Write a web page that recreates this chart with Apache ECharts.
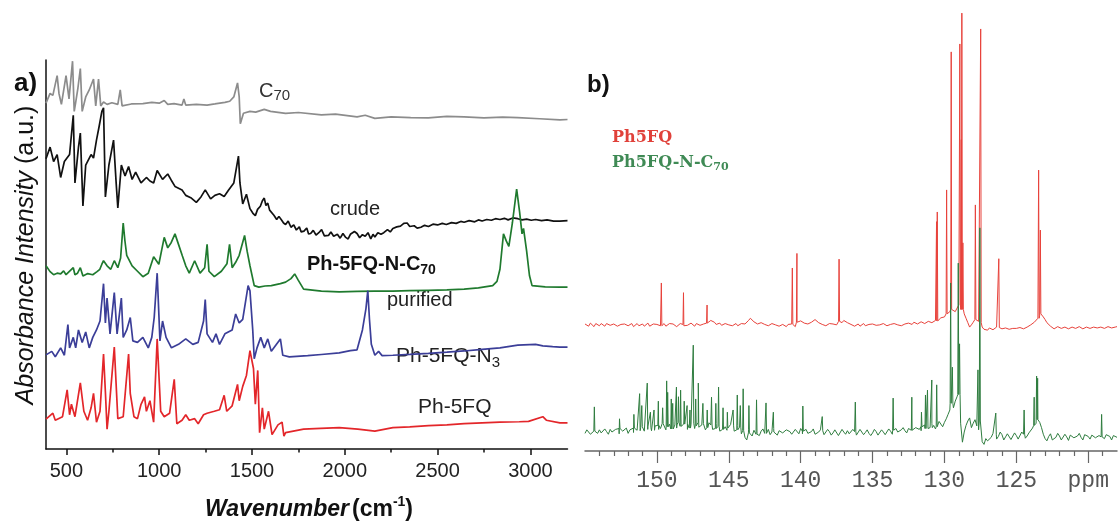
<!DOCTYPE html>
<html>
<head>
<meta charset="utf-8">
<script src="https://cdn.jsdelivr.net/npm/echarts@6/dist/echarts.min.js"></script>
<style>
  html, body { margin: 0; padding: 0; background: #fff; }
  #chart { width: 1119px; height: 523px; }
</style>
</head>
<body>
<div id="chart"></div>
<script>
// ---------- a) FT-IR spectra: [wavenumber (cm-1), absorbance above the trace's own baseline] ----------
const irC70 = [[390,4.3],[398,4.5],[412,6.8],[427,6.3],[450,11.4],[460,6.8],[473,4.0],[498,11.4],[514,5.4],[533,15.1],[542,2.2],[550,4.5],[562,8.2],[575,13.2],[585,2.2],[604,5.9],[623,7.7],[646,10.5],[658,3.6],[673,10.5],[685,3.6],[700,4.6],[719,4.0],[745,4.4],[777,4.0],[790,7.7],[800,3.6],[850,4.1],[912,4.2],[960,4.5],[1000,4.3],[1027,5.0],[1046,4.0],[1080,4.2],[1123,3.8],[1133,5.4],[1143,3.8],[1200,4.0],[1258,3.8],[1300,4.1],[1354,4.5],[1380,4.8],[1402,5.9],[1422,9.5],[1431,5.9],[1437,-1.0],[1454,1.7],[1489,2.2],[1520,2.0],[1566,2.7],[1600,2.2],[1681,1.7],[1750,1.9],[1874,1.3],[1950,1.5],[2066,0.8],[2110,1.2],[2162,0.4],[2250,0.8],[2355,0.6],[2450,0.5],[2550,0.9],[2643,0.8],[2750,0.5],[2850,0.7],[2932,0.6],[3050,0.3],[3159,0],[3200,0.1]];
const irCrude = [[390,16.0],[398,16.2],[412,19.0],[431,15.3],[450,17.1],[469,11.2],[489,15.3],[517,17.1],[537,27.2],[546,9.8],[565,19.0],[575,22.6],[589,3.9],[604,14.4],[633,17.1],[646,16.2],[662,20.8],[677,24.5],[691,28.2],[700,29.1],[710,6.2],[729,14.4],[754,20.8],[768,9.8],[777,3.4],[796,14.4],[816,11.6],[835,14.0],[854,10.7],[873,12.6],[902,9.8],[931,11.2],[950,10.3],[970,9.8],[989,13.0],[1018,10.7],[1046,12.1],[1065,10.5],[1085,8.9],[1123,8.0],[1143,6.6],[1170,6.0],[1200,4.8],[1225,6.2],[1248,8.0],[1277,5.7],[1300,6.6],[1325,7.0],[1350,6.3],[1374,8.0],[1402,9.8],[1427,16.7],[1435,9.8],[1450,4.4],[1470,6.9],[1489,3.2],[1505,2.0],[1518,1.4],[1530,3.0],[1545,3.8],[1556,5.2],[1566,5.9],[1575,4.0],[1585,4.6],[1595,2.8],[1604,3.2],[1618,1.5],[1633,0.4],[1645,1.2],[1660,0.2],[1670,-0.5],[1681,-0.9],[1695,0.0],[1710,-1.6],[1725,-1.0],[1739,-2.3],[1755,-1.5],[1765,-2.8],[1780,-2.6],[1795,-1.8],[1805,-3.3],[1816,-3.2],[1830,-2.4],[1845,-3.6],[1860,-3.0],[1875,-2.2],[1890,-3.8],[1912,-3.7],[1925,-2.8],[1940,-3.9],[1960,-3.4],[1975,-4.4],[1990,-3.2],[2005,-4.2],[2018,-4.6],[2030,-3.4],[2040,-3.6],[2052,-2.7],[2066,-3.2],[2080,-4.3],[2095,-3.5],[2110,-3.9],[2125,-3.0],[2140,-4.6],[2152,-3.4],[2162,-4.1],[2178,-3.0],[2195,-3.4],[2210,-3.0],[2230,-2.2],[2245,-2.8],[2259,-1.9],[2280,-1.5],[2300,-1.3],[2318,-0.6],[2336,-0.5],[2350,-1.4],[2374,-1.2],[2390,-1.8],[2410,-1.6],[2430,-1.1],[2451,-1.4],[2475,-0.8],[2500,-1.0],[2525,-0.6],[2547,-0.9],[2575,-0.4],[2600,-0.6],[2625,-0.1],[2643,-0.3],[2670,0.1],[2700,-0.2],[2720,0.3],[2740,0],[2765,0.4],[2790,0.2],[2812,0.6],[2836,0.4],[2860,0.7],[2880,0.3],[2905,0.8],[2932,0.6],[2955,0.3],[2980,0.5],[3005,0.2],[3028,0.4],[3060,0.1],[3090,0.3],[3125,0.0],[3159,0],[3200,0.1]];
const irAdduct = [[390,5.5],[398,5.7],[412,4.0],[431,3.2],[450,3.6],[469,3.4],[485,4.2],[498,3.2],[537,5.0],[546,3.2],[560,3.6],[575,5.0],[589,2.9],[615,3.5],[642,3.2],[665,4.0],[680,4.6],[691,5.9],[700,6.8],[719,5.5],[739,4.6],[758,6.8],[777,5.0],[792,7.5],[806,16.5],[815,12.0],[825,8.2],[854,5.5],[883,4.1],[912,2.7],[941,3.6],[970,7.8],[998,5.9],[1027,12.8],[1046,10.1],[1065,11.5],[1085,13.7],[1104,11.0],[1125,8.0],[1143,5.5],[1162,3.6],[1191,6.8],[1220,3.6],[1245,5.0],[1258,11.0],[1268,4.1],[1297,2.7],[1335,4.1],[1365,6.0],[1379,11.0],[1393,5.0],[1412,6.4],[1431,8.2],[1460,13.3],[1474,9.2],[1489,5.5],[1512,0.4],[1537,0],[1570,0.3],[1604,0.4],[1653,0.9],[1681,1.3],[1710,2.2],[1730,3.4],[1749,1.8],[1778,-0.5],[1874,-1.0],[1970,-1.2],[2066,-1.1],[2160,-1.0],[2259,-1.0],[2350,-0.9],[2451,-0.8],[2550,-0.7],[2643,-0.5],[2720,-0.2],[2797,0.4],[2820,1.5],[2836,4.6],[2855,13.7],[2870,11.9],[2884,10.5],[2903,16.5],[2926,25.2],[2942,19.3],[2955,13.7],[2963,15.1],[2980,9.2],[2995,3.0],[3009,0.4],[3080,0.1],[3159,0],[3200,0]];
const irAzide = [[390,-2.0],[398,-2.1],[421,-1.1],[440,-2.5],[469,-0.2],[489,-2.1],[508,5.8],[517,-0.2],[537,2.5],[550,-0.2],[565,4.4],[585,1.2],[604,3.9],[623,-0.2],[642,2.5],[662,4.4],[681,6.7],[700,16.3],[710,6.2],[719,12.6],[735,3.4],[758,14.0],[773,3.4],[796,12.6],[806,2.5],[825,4.4],[844,7.6],[858,1.6],[883,1.2],[912,2.5],[941,-0.2],[960,2.5],[973,7.6],[989,19.0],[1004,1.6],[1018,6.7],[1037,2.5],[1066,-0.2],[1104,0.7],[1143,2.1],[1181,0.7],[1210,1.2],[1239,6.7],[1248,12.2],[1258,3.4],[1287,1.2],[1306,3.4],[1325,0.7],[1354,3.4],[1393,4.4],[1412,8.5],[1431,6.2],[1450,7.1],[1479,15.8],[1489,14.5],[1504,4.4],[1512,-3.0],[1527,-0.2],[1547,2.5],[1566,-0.2],[1585,2.1],[1604,-1.1],[1653,2.1],[1666,-2.1],[1701,-2.5],[1800,-2.2],[1874,-1.9],[1970,-1.5],[2030,-0.9],[2066,-0.7],[2095,4.4],[2114,9.9],[2124,14.5],[2133,7.1],[2143,0.7],[2162,-2.1],[2182,-1.1],[2201,-2.2],[2259,-2.1],[2350,-1.9],[2451,-1.6],[2550,-1.3],[2643,-1.0],[2740,-0.6],[2836,-0.2],[2932,0.5],[3028,0.7],[3067,0.3],[3120,0.1],[3159,0],[3200,0]];
const irPh5FQ = [[390,1.0],[398,1.1],[427,2.5],[440,0.7],[479,1.6],[504,8.5],[517,2.1],[527,4.8],[546,1.6],[575,10.3],[594,3.0],[614,0.7],[633,3.9],[646,7.6],[662,0.2],[681,3.0],[700,17.7],[710,8.0],[719,-1.6],[729,3.0],[758,19.5],[777,1.1],[806,1.6],[835,17.7],[844,7.6],[864,1.6],[883,1.1],[902,4.8],[921,6.7],[931,3.0],[950,5.7],[970,0.2],[989,21.6],[1008,3.0],[1027,1.6],[1056,2.5],[1081,11.2],[1095,-0.2],[1123,0.7],[1143,2.1],[1162,0.7],[1191,1.1],[1210,-0.2],[1239,2.1],[1258,2.5],[1297,3.0],[1325,3.4],[1350,7.1],[1364,3.0],[1393,4.4],[1422,9.9],[1431,5.7],[1450,9.4],[1470,12.2],[1489,18.6],[1508,14.0],[1518,4.8],[1531,13.5],[1541,-2.5],[1556,3.9],[1566,-1.6],[1589,3.0],[1608,-3.0],[1640,-0.5],[1662,0.2],[1672,-3.4],[1681,-2.5],[1778,-1.6],[1870,-1.4],[1970,-1.2],[2070,-1.6],[2162,-2.1],[2259,-1.2],[2350,-1.0],[2451,-0.7],[2550,-0.5],[2643,-0.2],[2740,0],[2836,0.2],[2940,0.3],[2990,0.4],[3067,1.6],[3086,0.7],[3159,0],[3200,0]];

// vertical stacking of the IR traces (a.u.)
const IR_OFFSET_C70 = 84.6, IR_OFFSET_CRUDE = 58.6, IR_OFFSET_ADDUCT = 41.6, IR_OFFSET_AZIDE = 26.2, IR_OFFSET_PH5FQ = 6.7;
const IR_MAJOR_TICKS = [500, 1000, 1500, 2000, 2500, 3000];
const IR_MINOR_TICKS = [750, 1250, 1750, 2250, 2750];

// ---------- b) 13C NMR ----------
// baseline sampled every 0.25 ppm from 155 ppm, the "mid" samples sit halfway between (from 154.875 ppm)
const NMR_PPM_START = 155, NMR_PPM_STEP = 0.25;
const nmrPh5FQBase = [
  0.2,-0.3,0.1,0.3,-0.2,0.0,0.3,-0.1,0.2,-0.3,0.1,0.2,-0.2,0.3,0.0,-0.2,0.2,0.1,-0.3,0.2,
  0.1,-0.2,0.3,0.0,-0.1,0.2,-0.3,0.1,0.2,-0.2,0.0,0.3,-0.1,0.2,0.4,1.0,0.6,0.2,-0.1,0.3,
  0.0,-0.2,0.3,0.1,-0.1,0.6,1.5,0.7,0.2,0.5,0.1,-0.2,0.3,0.0,-0.3,0.1,-0.4,-0.2,0.1,0.6,
  0.9,0.4,0.2,0.6,1.2,0.5,0.1,-0.2,0.3,0.2,0.0,0.8,1.0,0.5,0.1,-0.3,0.2,0.0,-0.2,0.1,
  0.2,-0.1,0.0,0.3,-0.2,0.1,0.3,0.0,-0.2,0.2,0.4,0.1,0.5,0.3,0.6,0.4,0.8,0.5,0.9,1.6,
  1.8,2.5,3.5,3.0,4.5,3.5,1.5,-0.5,0.6,1.2,0.5,-1.0,-1.2,-0.8,-0.9,-0.6,-0.9,-0.7,-1.0,-0.8,
  -0.8,-0.6,-0.9,-0.5,0.0,0.6,1.5,2.5,1.2,0.2,-0.6,-0.8,-0.5,-0.9,-0.6,-0.8,-0.4,-0.7,-0.5,-0.8,
  -0.5,-0.8,-0.4,-0.6,-0.3,-0.7,-0.5,-0.6,-0.4
];
const nmrPh5FQMid = [
  -0.2,0.4,-0.4,0.1,0.3,-0.3,0.2,-0.4,0.4,-0.1,-0.3,0.4,0.0,-0.4,0.3,0.1,-0.3,0.4,0.0,-0.2,
  0.4,-0.1,-0.3,0.3,0.2,-0.4,0.3,-0.2,-0.1,0.4,-0.3,0.1,0.3,-0.2,0.7,0.8,0.1,0.4,-0.3,0.0,
  0.4,-0.1,-0.2,0.3,0.2,1.0,1.1,0.3,-0.1,0.3,0.4,-0.4,0.1,0.3,-0.1,-0.3,0.1,0.2,-0.4,0.3,
  0.5,0.6,-0.1,0.9,0.8,0.2,0.4,-0.4,0.0,0.5,-0.3,0.5,0.7,0.2,-0.2,0.1,-0.3,0.3,0.1,-0.3,
  0.4,-0.3,0.3,0.0,0.2,-0.2,0.0,0.4,-0.1,0.0,0.3,0.6,0.2,0.7,0.3,0.8,0.5,1.0,1.3,1.5,
  2.2,3.0,3.2,3.8,4.0,2.5,0.5,0.0,1.0,0.8,-0.5,-0.9,-0.7,-1.1,-0.5,-0.8,-0.6,-1.1,-0.6,-1.0,
  -0.5,-0.9,-0.6,-0.3,0.3,1.0,2.2,1.8,0.5,-0.3,-0.9,-0.4,-0.8,-0.5,-0.9,-0.5,-0.8,-0.4,-0.9,-0.5,
  -0.8,-0.5,-0.7,-0.5,-0.8,-0.4,-0.7,-0.5
];
const nmrPh5FQLines = [[149.69,9.5],[148.15,7.3],[146.51,4.5],[140.58,12.9],[140.26,16.2],[137.33,14.9],[130.55,23.4],[130.50,25.6],[129.85,30.6],[129.53,61.9],[128.93,63.7],[128.83,42.0],[128.79,70.7],[128.72,18.6],[127.85,27.2],[127.48,67.1],[126.22,15.0],[123.45,35.1],[123.33,21.5]];
const nmrAdductBase = [
  -0.3,0.4,-0.6,0.2,0.5,-0.4,0.1,0.6,-0.2,0.3,0.8,0.2,-0.3,0.5,0.9,0.3,1.2,0.6,1.0,0.4,
  1.5,0.8,1.9,1.2,0.7,1.6,2.2,1.3,1.8,0.9,2.0,1.4,1.1,1.9,1.0,1.6,0.8,1.3,0.6,1.2,
  0.9,1.4,0.5,1.1,0.3,-1.8,-0.2,0.4,-0.5,0.2,-0.3,0.6,0.0,-0.4,0.3,-0.2,0.5,0.1,-0.3,0.2,
  0.8,0.2,-0.3,0.1,-0.5,0.0,0.3,-0.4,0.1,-0.2,0.2,-0.5,0.0,0.3,-0.3,0.1,-0.4,0.2,-0.1,-0.3,
  -0.2,0.1,-0.4,0.0,-0.3,0.2,0.4,0.0,0.5,0.3,0.8,0.4,1.0,0.6,1.2,0.8,1.0,1.5,1.2,1.8,
  2.2,4.0,6.5,7.0,8.5,-2.3,1.5,3.2,2.0,1.4,2.5,-2.8,-2.0,-1.2,-0.5,-1.0,-0.6,-1.1,-0.7,-1.3,
  -0.8,-1.2,-0.5,-0.9,0.2,1.5,2.8,1.0,-1.5,-1.0,-1.8,-1.2,-0.9,-1.5,-1.1,-0.7,-1.3,-0.9,-1.2,-0.6,
  -1.0,-0.7,-1.3,-0.8,-1.1,-0.6,-1.0,-0.8,-1.2
];
const nmrAdductMid = [
  0.5,-0.5,0.6,-0.3,-0.2,0.7,-0.5,0.0,0.6,-0.4,0.2,0.9,0.5,-0.1,0.4,1.0,0.2,1.3,0.3,1.4,
  0.6,2.0,0.5,1.8,2.3,0.9,1.2,2.5,0.6,1.7,0.8,2.2,1.6,0.5,2.1,0.6,1.9,0.2,1.6,0.4,
  1.7,0.2,1.5,-0.4,-1.2,0.5,-0.9,0.6,-0.8,0.7,0.2,-0.6,0.8,-0.7,0.5,-0.6,0.9,-0.5,0.6,-0.4,
  -0.4,0.6,-0.7,0.7,-0.8,0.5,-0.6,0.6,-0.7,0.5,-0.8,0.6,-0.5,-0.4,0.6,-0.7,0.6,-0.6,0.5,-0.8,
  0.6,-0.7,0.5,-0.6,0.7,-0.5,0.8,-0.3,1.0,-0.2,1.1,0.0,1.4,0.3,1.6,0.4,1.9,0.7,2.4,1.2,
  3.0,5.0,5.5,8.0,2.0,0.0,2.5,1.0,2.8,0.5,-2.2,-1.5,-2.4,-0.3,-1.6,0.0,-1.8,-0.4,-1.7,-0.2,
  -1.6,0.0,-1.4,-0.2,0.9,2.0,2.2,-0.5,-2.0,-0.4,-2.1,-0.3,-1.8,-0.5,-1.9,-0.4,-1.7,-0.3,-1.8,-0.2,
  -1.6,-0.3,-1.7,-0.4,-1.5,-0.2,-1.8,-0.5
];
const nmrAdductLines = [[154.35,5.7],[152.6,3.0],[151.6,4.0],[151.2,8.7],[151.05,6.0],[150.67,11.1],[150.45,4.5],[150.2,5.0],[149.9,7.0],[149.6,5.5],[149.32,11.6],[149.25,9.0],[149.0,7.5],[148.9,6.5],[148.64,10.2],[148.5,8.0],[148.35,9.5],[148.1,7.0],[147.9,6.0],[147.7,5.0],[147.47,19.7],[147.3,7.5],[147.12,11.1],[146.8,6.5],[146.5,5.0],[146.2,7.9],[145.9,6.5],[145.71,10.2],[145.4,5.5],[145.1,4.5],[144.7,5.0],[144.41,8.4],[144.2,6.0],[144.0,9.8],[143.6,6.0],[143.07,7.3],[142.41,6.6],[141.9,4.5],[139.85,5.9],[138.5,3.5],[136.2,6.8],[133.57,7.7],[132.27,7.9],[131.6,4.5],[131.32,8.4],[131.18,9.5],[130.88,11.8],[130.54,10.7],[129.57,33.8],[129.45,14.7],[129.04,38.3],[128.95,20.0],[127.67,14.1],[127.54,46.3],[126.43,4.3],[124.46,5.0],[123.76,7.9],[123.59,12.7],[123.52,12.2],[119.07,4.0]];
const NMR_OFFSET_PH5FQ = 28.6, NMR_OFFSET_ADDUCT = 4.3;
const NMR_MAJOR_TICKS = [120, 125, 130, 135, 140, 145, 150];
const NMR_MINOR_TICKS = [119,121,122,123,124,126,127,128,129,131,132,133,134,136,137,138,139,141,142,143,144,146,147,148,149,151,152,153,154];
const NMR_UNIT_LABEL = 'ppm';

// ---------- series builders ----------
function stacked(points, offset) {
  return points.map(([x, y]) => [x, y + offset]);
}
// half-width of a resonance line, ppm
const LINE_HALF_WIDTH = 0.035;
function nmrTrace(base, mid, lines, offset) {
  const pts = base.map((v, i) => [NMR_PPM_START - i * NMR_PPM_STEP, v])
    .concat(mid.map((v, i) => [NMR_PPM_START - NMR_PPM_STEP / 2 - i * NMR_PPM_STEP, v]));
  lines.forEach(([p, h]) => {
    const i = Math.min(base.length - 1, Math.max(0, Math.round((NMR_PPM_START - p) / NMR_PPM_STEP)));
    pts.push([p + LINE_HALF_WIDTH, base[i]], [p, h], [p - LINE_HALF_WIDTH, base[i]]);
  });
  pts.sort((a, b) => b[0] - a[0]);
  return stacked(pts, offset);
}

// ---------- text helpers (sub/superscripts) ----------
const measureCtx = document.createElement('canvas').getContext('2d');
function fontOf(p) {
  return `${p.style || 'normal'} ${p.weight || 'normal'} ${p.size}px ${p.family || '"Liberation Sans", Arial, sans-serif'}`;
}
function widthOf(p) { measureCtx.font = fontOf(p); return measureCtx.measureText(p.text).width; }
// lays a run of styled pieces out on one line, starting at x0 (or centred on x0)
function textRun(parts, x0, y, color, centred) {
  const total = parts.reduce((s, p) => s + widthOf(p) + (p.gap || 0), 0);
  let x = centred ? x0 - total / 2 : x0;
  return parts.map(p => {
    const el = {
      type: 'text', x: x + (p.gap || 0), y: y + (p.dy || 0), silent: true,
      style: { text: p.text, font: fontOf(p), fill: p.color || color,
               textAlign: 'left', textVerticalAlign: 'middle', align: 'left', verticalAlign: 'middle' }
    };
    x += widthOf(p) + (p.gap || 0);
    return el;
  });
}

const SANS = '"Liberation Sans", Arial, sans-serif';
const SERIF = '"DejaVu Serif", serif';
const labelColor = '#222';

const graphics = [
  // panel tags
  ...textRun([{ text: 'a)', size: 26, weight: 'bold' }], 14, 84, '#111'),
  ...textRun([{ text: 'b)', size: 24, weight: 'bold' }], 587, 85, '#111'),
  // trace labels, panel a
  ...textRun([{ text: 'C', size: 20 }, { text: '70', size: 15, dy: 5 }], 259, 91, '#333'),
  ...textRun([{ text: 'crude', size: 20 }], 330, 209, labelColor),
  ...textRun([{ text: 'Ph-5FQ-N-C', size: 20, weight: 'bold' }, { text: '70', size: 14, weight: 'bold', dy: 6 }], 307, 264, '#111'),
  ...textRun([{ text: 'purified', size: 20 }], 387, 300, labelColor),
  ...textRun([{ text: 'Ph-5FQ-N', size: 21 }, { text: '3', size: 15, dy: 7 }], 396, 356, labelColor),
  ...textRun([{ text: 'Ph-5FQ', size: 21 }], 418, 407, labelColor),
  // axis title, panel a
  ...textRun([
    { text: 'Wavenumber', size: 23, weight: 'bold', style: 'italic' },
    { text: '(cm', size: 23, weight: 'bold', gap: 3 },
    { text: '-1', size: 14, weight: 'bold', dy: -8 },
    { text: ')', size: 23, weight: 'bold' }
  ], 205, 510, '#111'),
  {
    type: 'group', x: 26, y: 255, rotation: Math.PI / 2, silent: true,
    children: textRun([
      { text: 'Absorbance Intensity', size: 25, style: 'italic' },
      { text: ' (a.u.)', size: 25 }
    ], 0, 0, '#111', true)
  },
  // legend, panel b
  ...textRun([{ text: 'Ph5FQ', size: 16, weight: 'bold', family: SERIF }], 612, 138, '#e0413a'),
  ...textRun([{ text: 'Ph5FQ-N-C', size: 16, weight: 'bold', family: SERIF },
              { text: '70', size: 11, weight: 'bold', family: SERIF, dy: 4 }], 612, 163, '#3f8a55')
];

const chart = echarts.init(document.getElementById('chart'), null, { renderer: 'canvas' });
const irLine = (name, data, color) => ({
  name, type: 'line', xAxisIndex: 0, yAxisIndex: 0, data, symbol: 'none', silent: true,
  lineStyle: { color, width: 1.7 }, z: 3
});
const nmrLine = (name, data, color) => ({
  name, type: 'line', xAxisIndex: 2, yAxisIndex: 1, data, symbol: 'none', silent: true,
  lineStyle: { color, width: 1 }, z: 3
});

chart.setOption({
  animation: false,
  backgroundColor: '#fff',
  grid: [
    { left: 46, right: 551.5, top: 60, bottom: 74 },
    { left: 585, right: 2, top: 10, bottom: 72 }
  ],
  xAxis: [
    { gridIndex: 0, type: 'value', position: 'bottom', min: 390, max: 3200,
      axisLine: { lineStyle: { color: '#111', width: 1.5 } },
      axisTick: { customValues: IR_MAJOR_TICKS, length: 6, lineStyle: { color: '#111', width: 1.5 } },
      axisLabel: { customValues: IR_MAJOR_TICKS, fontSize: 20, fontFamily: SANS, color: '#222', margin: 12,
                   formatter: v => String(v) },
      splitLine: { show: false } },
    { gridIndex: 0, type: 'value', position: 'bottom', min: 390, max: 3200,
      axisLine: { show: false },
      axisTick: { customValues: IR_MINOR_TICKS, length: 3.5, lineStyle: { color: '#111', width: 1.5 } },
      axisLabel: { show: false }, splitLine: { show: false } },
    { gridIndex: 1, type: 'value', position: 'bottom', min: 118, max: 155, inverse: true,
      axisLine: { lineStyle: { color: '#666', width: 1.5 } },
      axisTick: { customValues: NMR_MAJOR_TICKS, length: 12, lineStyle: { color: '#666', width: 1.2 } },
      axisLabel: { customValues: NMR_MAJOR_TICKS, fontSize: 23, fontFamily: '"Liberation Mono", monospace',
                   color: '#555', margin: 18,
                   formatter: v => (v === 120 ? NMR_UNIT_LABEL : String(v)) },
      splitLine: { show: false } },
    { gridIndex: 1, type: 'value', position: 'bottom', min: 118, max: 155, inverse: true,
      axisLine: { show: false },
      axisTick: { customValues: NMR_MINOR_TICKS, length: 5, lineStyle: { color: '#666', width: 1.2 } },
      axisLabel: { show: false }, splitLine: { show: false } }
  ],
  yAxis: [
    { gridIndex: 0, type: 'value', min: 0, max: 100,
      axisLine: { show: true, lineStyle: { color: '#111', width: 1.5 } },
      axisTick: { show: false }, axisLabel: { show: false }, splitLine: { show: false } },
    { gridIndex: 1, type: 'value', min: 0, max: 100, show: false, splitLine: { show: false } }
  ],
  series: [
    irLine('C70', stacked(irC70, IR_OFFSET_C70), '#8c8c8c'),
    irLine('crude', stacked(irCrude, IR_OFFSET_CRUDE), '#111111'),
    irLine('Ph-5FQ-N-C70', stacked(irAdduct, IR_OFFSET_ADDUCT), '#1f7a2e'),
    irLine('Ph-5FQ-N3', stacked(irAzide, IR_OFFSET_AZIDE), '#3b3e98'),
    irLine('Ph-5FQ', stacked(irPh5FQ, IR_OFFSET_PH5FQ), '#e3262a'),
    nmrLine('Ph5FQ', nmrTrace(nmrPh5FQBase, nmrPh5FQMid, nmrPh5FQLines, NMR_OFFSET_PH5FQ), '#e8423b'),
    nmrLine('Ph5FQ-N-C70', nmrTrace(nmrAdductBase, nmrAdductMid, nmrAdductLines, NMR_OFFSET_ADDUCT), '#2f7d3f')
  ],
  graphic: graphics
});
</script>
</body>
</html>
